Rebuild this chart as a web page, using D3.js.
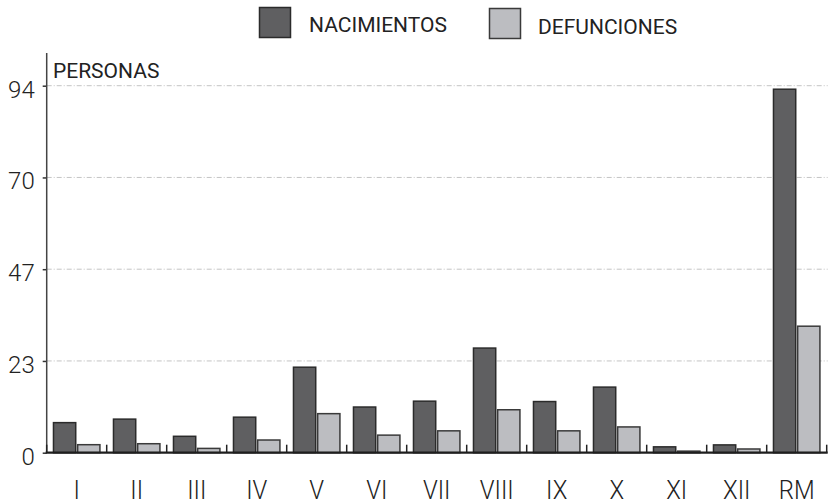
<!DOCTYPE html>
<html>
<head>
<meta charset="utf-8">
<script src="https://cdn.jsdelivr.net/npm/d3@7"></script>
<style>
  html, body { margin: 0; padding: 0; background: #fff; }
  svg { display: block; font-family: Roboto, "Liberation Sans", sans-serif; }
</style>
</head>
<body>
<svg id="chart" width="829" height="504"></svg>
<script>
// Regions and series (persons)
const categories = ["I", "II", "III", "IV", "V", "VI", "VII", "VIII", "IX", "X", "XI", "XII", "RM"];
const nacimientos = [7.7, 8.6, 4.2, 9.1, 21.9, 11.7, 13.2, 26.8, 13.1, 16.8, 1.5, 2.0, 93.1];
const defunciones = [2.05, 2.3, 1.1, 3.25, 10.0, 4.5, 5.6, 11.0, 5.6, 6.6, 0.4, 0.95, 32.4];
const seriesNames = ["NACIMIENTOS", "DEFUNCIONES"];
const tickValues = [0, 23.5, 47, 70.5, 94];
const tickLabels = ["0", "23", "47", "70", "94"];
const yMax = 94;

const colors = { NACIMIENTOS: "#5f5f61", DEFUNCIONES: "#bcbdc1" };
const strokes = { NACIMIENTOS: "#2b2b2b", DEFUNCIONES: "#3a3a3a" };

const svg = d3.select("#chart");
const plotLeft = 46.7, plotRight = 826.7, plotTop = 85.7, plotBottom = 452.7;

const x = d3.scaleBand().domain(categories).range([plotLeft, plotRight]).paddingInner(0).paddingOuter(0);
const xs = d3.scaleBand().domain(seriesNames).range([0, x.bandwidth()])
  .paddingInner(0.08).paddingOuter(0.28);
const y = d3.scaleLinear().domain([0, yMax]).range([plotBottom, plotTop]);

// Dash-dot gridlines
svg.append("g")
  .selectAll("line")
  .data(tickValues.filter(v => v > 0))
  .join("line")
  .attr("x1", plotLeft).attr("x2", plotRight + 1)
  .attr("y1", d => y(d)).attr("y2", d => y(d))
  .attr("stroke", "#c4c4c4").attr("stroke-width", 1)
  .attr("stroke-dasharray", "5,2,1,2");

// Bars
const rows = categories.map((c, i) => ({ cat: c, values: [
  { key: "NACIMIENTOS", value: nacimientos[i] },
  { key: "DEFUNCIONES", value: defunciones[i] }
]}));

svg.append("g")
  .selectAll("g")
  .data(rows)
  .join("g")
  .attr("transform", d => `translate(${x(d.cat)},0)`)
  .selectAll("rect")
  .data(d => d.values)
  .join("rect")
  .attr("x", d => xs(d.key))
  .attr("width", xs.bandwidth())
  .attr("y", d => y(d.value))
  .attr("height", d => plotBottom - y(d.value))
  .attr("fill", d => colors[d.key])
  .attr("stroke", d => strokes[d.key])
  .attr("stroke-width", 1.5);

// Y axis
const yAxis = d3.axisLeft(y)
  .tickValues(tickValues)
  .tickFormat((d, i) => tickLabels[i])
  .tickSize(4)
  .tickPadding(8);
const gy = svg.append("g").attr("transform", `translate(${plotLeft},0)`).call(yAxis);
gy.select(".domain").remove();
gy.selectAll(".tick line").attr("stroke", "#333").attr("stroke-width", 1.5);
gy.selectAll(".tick text")
  .attr("font-size", 24)
  .attr("font-weight", 300)
  .attr("fill", "#222")
  .attr("font-family", "Roboto, sans-serif")
  .attr("dy", "0.48em");
svg.append("line")
  .attr("x1", plotLeft).attr("x2", plotLeft)
  .attr("y1", 53).attr("y2", plotBottom)
  .attr("stroke", "#444").attr("stroke-width", 1.5);

// X axis baseline with upward separators between groups
const boundaries = categories.map(c => x(c)).concat([plotRight]);
svg.append("g")
  .selectAll("line")
  .data(boundaries)
  .join("line")
  .attr("x1", d => d).attr("x2", d => d)
  .attr("y1", plotBottom - 8).attr("y2", plotBottom)
  .attr("stroke", "#222").attr("stroke-width", 1.5);
svg.append("line")
  .attr("x1", plotLeft - 1).attr("x2", plotRight + 1)
  .attr("y1", plotBottom).attr("y2", plotBottom)
  .attr("stroke", "#1e1e1e").attr("stroke-width", 2.2);

// Category labels
svg.append("g")
  .selectAll("text")
  .data(categories)
  .join("text")
  .attr("transform", d => `translate(${x(d) + x.bandwidth() / 2},498.5) scale(0.92,1)`)
  .attr("text-anchor", "middle")
  .attr("font-size", 26)
  .attr("font-weight", 300)
  .attr("fill", "#222")
  .text(d => d);

// Unit label
svg.append("text")
  .attr("x", 53).attr("y", 77.5)
  .attr("font-size", 21)
  .attr("fill", "#222")
  .text("PERSONAS");

// Legend
const legendItems = [
  { key: "NACIMIENTOS", sx: 259.5, sy: 7.5, tx: 309, ty: 32 },
  { key: "DEFUNCIONES", sx: 489.5, sy: 8.5, tx: 538, ty: 34 }
];
const lg = svg.append("g").selectAll("g").data(legendItems).join("g");
lg.append("rect")
  .attr("x", d => d.sx).attr("y", d => d.sy)
  .attr("width", 31).attr("height", 30)
  .attr("fill", d => colors[d.key])
  .attr("stroke", d => strokes[d.key]).attr("stroke-width", 1.5);
lg.append("text")
  .attr("x", d => d.tx).attr("y", d => d.ty)
  .attr("font-size", 21)
  .attr("fill", "#222")
  .text(d => d.key);
</script>
</body>
</html>
